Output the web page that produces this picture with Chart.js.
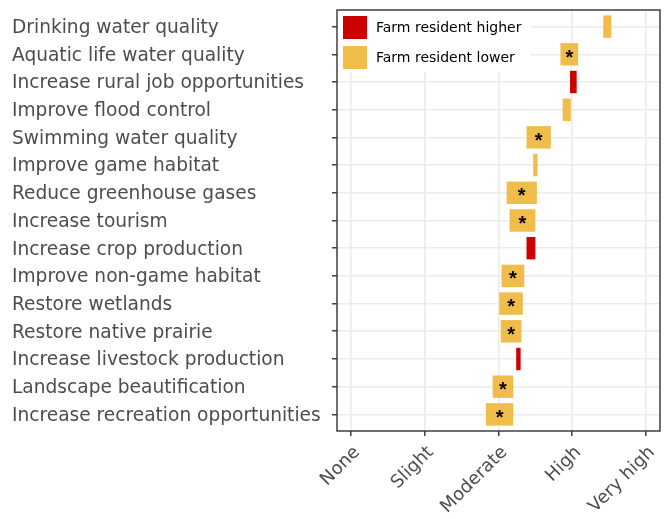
<!DOCTYPE html>
<html>
<head>
<meta charset="utf-8">
<script src="https://cdn.jsdelivr.net/npm/chart.js@4.4.1/dist/chart.umd.min.js"></script>
<style>
  html, body { margin: 0; padding: 0; background: #fff; }
  #wrap { width: 667px; height: 519px; }
</style>
</head>
<body>
<div id="wrap"><canvas id="chart"></canvas></div>
<script>
// rows, top to bottom
const categories = [
    'Drinking water quality', 'Aquatic life water quality', 'Increase rural job opportunities',
    'Improve flood control', 'Swimming water quality', 'Improve game habitat',
    'Reduce greenhouse gases', 'Increase tourism', 'Increase crop production',
    'Improve non-game habitat', 'Restore wetlands', 'Restore native prairie',
    'Increase livestock production', 'Landscape beautification', 'Increase recreation opportunities'
];
// bar ends on the 1 (None) .. 5 (Very high) scale
const startValues = [4.42, 3.84, 3.97, 3.87, 3.38, 3.47, 3.11, 3.15, 3.38, 3.04, 3.01, 3.03, 3.24, 2.92, 2.83];
const endValues   = [4.53, 4.08, 4.06, 3.98, 3.71, 3.53, 3.52, 3.50, 3.50, 3.35, 3.33, 3.31, 3.30, 3.20, 3.20];
// 'higher' = farm resident higher, 'lower' = farm resident lower
const direction = ['lower', 'lower', 'higher', 'lower', 'lower', 'lower', 'lower', 'lower',
                   'higher', 'lower', 'lower', 'lower', 'higher', 'lower', 'lower'];
const significant = [false, true, false, false, true, false, true, true,
                     false, true, true, true, false, true, true];
const levelLabels = ['None', 'Slight', 'Moderate', 'High', 'Very high'];

const RED = '#CC0000';
const YELLOW = '#F0BD4B';
const FONT = "'DejaVu Sans', sans-serif";

function rowsFor(dir) {
    const out = [];
    categories.forEach((c, i) => {
        if (direction[i] === dir) out.push({ x: [startValues[i], endValues[i]], y: i + 1, sig: significant[i] });
    });
    return out;
}

// star on significant bars, legend box, panel border
const decorations = {
    id: 'decorations',
    afterDatasetsDraw(chart) {
        const ctx = chart.ctx;
        ctx.save();
        ctx.fillStyle = '#000';
        ctx.font = "bold 20px 'Liberation Sans', Arial, sans-serif";
        ctx.textAlign = 'center';
        ctx.textBaseline = 'middle';
        chart.data.datasets.forEach((ds, d) => {
            chart.getDatasetMeta(d).data.forEach((bar, j) => {
                if (!ds.data[j].sig) return;
                ctx.fillText('*', (bar.x + bar.base) / 2, bar.y + 4);
            });
        });
        ctx.restore();
    },
    afterDraw(chart) {
        const ctx = chart.ctx;
        const a = chart.chartArea;
        ctx.save();
        // legend
        ctx.fillStyle = '#fff';
        ctx.fillRect(a.left, a.top, 193, 62);
        const items = [[RED, 'Farm resident higher'], [YELLOW, 'Farm resident lower']];
        items.forEach((it, k) => {
            const y = a.top + 6 + k * 30;
            ctx.fillStyle = it[0];
            ctx.fillRect(a.left + 6, y, 24, 23);
            ctx.fillStyle = '#000';
            ctx.font = '14px ' + FONT;
            ctx.textAlign = 'left';
            ctx.textBaseline = 'middle';
            ctx.fillText(it[1], a.left + 39, y + 12);
        });
        // panel border
        ctx.strokeStyle = '#333';
        ctx.lineWidth = 1.4;
        ctx.strokeRect(a.left, a.top, a.right - a.left, a.bottom - a.top);
        ctx.restore();
    }
};

const gridStyle = { color: '#EBEBEB', lineWidth: 1.6, tickColor: '#333', tickLength: 5, tickWidth: 1.4, offset: false };

const ctx = document.getElementById('chart').getContext('2d');
new Chart(ctx, {
    type: 'bar',
    data: {
        datasets: [
            { label: 'Farm resident higher', data: rowsFor('higher'), backgroundColor: RED },
            { label: 'Farm resident lower', data: rowsFor('lower'), backgroundColor: YELLOW }
        ]
    },
    options: {
        indexAxis: 'y',
        responsive: true,
        maintainAspectRatio: false,
        animation: false,
        grouped: false,
        categoryPercentage: 0.9,
        barPercentage: 0.9,
        layout: { padding: { left: 12, right: 7, top: 10, bottom: 0 } },
        plugins: { legend: { display: false }, tooltip: { enabled: false } },
        scales: {
            x: {
                type: 'linear',
                offset: false,
                min: 0.81,
                max: 5.19,
                afterBuildTicks: (s) => { s.ticks = levelLabels.map((l, i) => ({ value: i + 1 })); },
                afterFit: (s) => { s.height = 88; s.paddingLeft = 0; s.paddingRight = 0; },
                grid: gridStyle,
                border: { display: false },
                ticks: {
                    callback: (v) => levelLabels[v - 1],
                    minRotation: 45,
                    maxRotation: 45,
                    padding: 6,
                    labelOffset: 6,
                    color: '#4D4D4D',
                    font: { family: FONT, size: 18 }
                }
            },
            y: {
                type: 'linear',
                offset: false,
                reverse: true,
                min: 0.4,
                max: 15.6,
                afterBuildTicks: (s) => { s.ticks = categories.map((c, i) => ({ value: i + 1 })); },
                afterFit: (s) => { s.width = 325; s.paddingTop = 0; s.paddingBottom = 0; },
                grid: gridStyle,
                border: { display: false },
                ticks: {
                    callback: (v) => categories[v - 1],
                    crossAlign: 'far',
                    autoSkip: false,
                    labelOffset: 1.5,
                    color: '#4D4D4D',
                    font: { family: FONT, size: 18.6 }
                }
            }
        }
    },
    plugins: [decorations]
});
</script>
</body>
</html>
